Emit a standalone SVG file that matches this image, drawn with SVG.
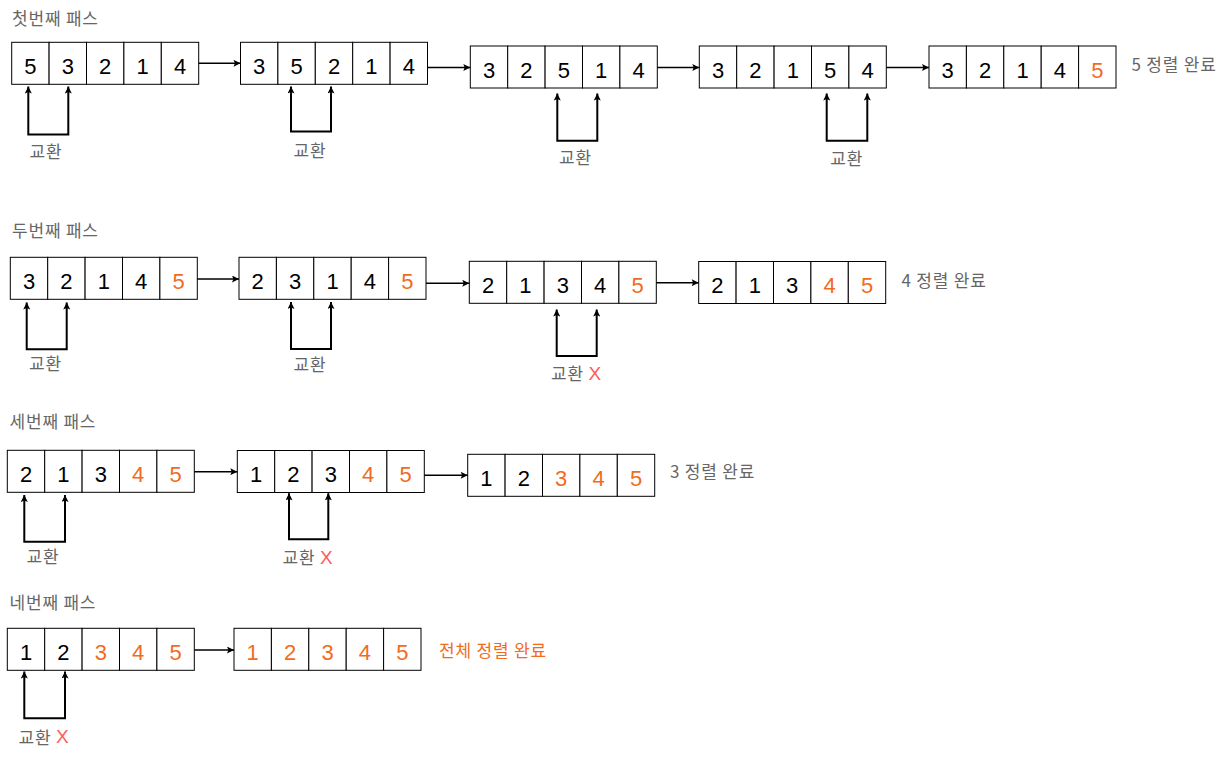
<svg xmlns="http://www.w3.org/2000/svg" width="1227" height="757" viewBox="0 0 1227 757">
<style>
.c{fill:#fff;stroke:#000;stroke-width:1}
.d{font-family:"Liberation Sans",Arial,sans-serif;font-size:22px;text-anchor:middle;fill:#000}
.k{font-family:"Noto Sans CJK KR","Noto Sans",sans-serif;font-size:17px;letter-spacing:0.8px;fill:#666;dominant-baseline:central}
.m{text-anchor:middle}
.o{fill:#F26B1D}
.x{fill:#FF5C5C;font-family:"Liberation Sans",Arial,sans-serif;font-size:19px}
.e{fill:none;stroke:#000;stroke-width:1.6}
.s{fill:none;stroke:#000;stroke-width:2}
</style>
<defs>
<marker id="ah" viewBox="0 0 10 10" refX="10" refY="5" markerWidth="8" markerHeight="7" markerUnits="userSpaceOnUse" orient="auto-start-reverse">
<path d="M0,0 L10,5 L0,10 L2,5 z" fill="#000"/>
</marker>
</defs>

<g id="titles">
<text class="k" x="12" y="17.5">첫번째 패스</text>
<text class="k" x="12" y="229">두번째 패스</text>
<text class="k" x="9.5" y="420">세번째 패스</text>
<text class="k" x="9.5" y="601.5">네번째 패스</text>
</g>

<!-- Row 1 -->
<g id="r1a1">
<rect class="c" x="11.7" y="42.3" width="37.4" height="42"/><rect class="c" x="49.1" y="42.3" width="37.4" height="42"/><rect class="c" x="86.5" y="42.3" width="37.4" height="42"/><rect class="c" x="123.9" y="42.3" width="37.4" height="42"/><rect class="c" x="161.3" y="42.3" width="37.4" height="42"/>
<text class="d" x="30.4" y="73.8">5</text><text class="d" x="67.8" y="73.8">3</text><text class="d" x="105.2" y="73.8">2</text><text class="d" x="142.6" y="73.8">1</text><text class="d" x="180" y="73.8">4</text>
</g>
<g id="r1a2">
<rect class="c" x="240.5" y="42.3" width="37.4" height="42"/><rect class="c" x="277.9" y="42.3" width="37.4" height="42"/><rect class="c" x="315.3" y="42.3" width="37.4" height="42"/><rect class="c" x="352.7" y="42.3" width="37.4" height="42"/><rect class="c" x="390.1" y="42.3" width="37.4" height="42"/>
<text class="d" x="259.2" y="73.8">3</text><text class="d" x="296.6" y="73.8">5</text><text class="d" x="334" y="73.8">2</text><text class="d" x="371.4" y="73.8">1</text><text class="d" x="408.8" y="73.8">4</text>
</g>
<g id="r1a3">
<rect class="c" x="470.3" y="46" width="37.4" height="42"/><rect class="c" x="507.7" y="46" width="37.4" height="42"/><rect class="c" x="545.1" y="46" width="37.4" height="42"/><rect class="c" x="582.5" y="46" width="37.4" height="42"/><rect class="c" x="619.9" y="46" width="37.4" height="42"/>
<text class="d" x="489" y="77.5">3</text><text class="d" x="526.4" y="77.5">2</text><text class="d" x="563.8" y="77.5">5</text><text class="d" x="601.2" y="77.5">1</text><text class="d" x="638.6" y="77.5">4</text>
</g>
<g id="r1a4">
<rect class="c" x="699.3" y="46" width="37.4" height="42"/><rect class="c" x="736.7" y="46" width="37.4" height="42"/><rect class="c" x="774.1" y="46" width="37.4" height="42"/><rect class="c" x="811.5" y="46" width="37.4" height="42"/><rect class="c" x="848.9" y="46" width="37.4" height="42"/>
<text class="d" x="718" y="77.5">3</text><text class="d" x="755.4" y="77.5">2</text><text class="d" x="792.8" y="77.5">1</text><text class="d" x="830.2" y="77.5">5</text><text class="d" x="867.6" y="77.5">4</text>
</g>
<g id="r1a5">
<rect class="c" x="929" y="46" width="37.4" height="42"/><rect class="c" x="966.4" y="46" width="37.4" height="42"/><rect class="c" x="1003.8" y="46" width="37.4" height="42"/><rect class="c" x="1041.2" y="46" width="37.4" height="42"/><rect class="c" x="1078.6" y="46" width="37.4" height="42"/>
<text class="d" x="947.7" y="77.5">3</text><text class="d" x="985.1" y="77.5">2</text><text class="d" x="1022.5" y="77.5">1</text><text class="d" x="1059.9" y="77.5">4</text><text class="d o" x="1097.3" y="77.5">5</text>
</g>
<g id="r1done"><text class="k" x="1131.5" y="63.5">5 정렬 완료</text></g>

<!-- Row 2 -->
<g id="r2a1">
<rect class="c" x="10.3" y="257.3" width="37.4" height="42"/><rect class="c" x="47.7" y="257.3" width="37.4" height="42"/><rect class="c" x="85.1" y="257.3" width="37.4" height="42"/><rect class="c" x="122.5" y="257.3" width="37.4" height="42"/><rect class="c" x="159.9" y="257.3" width="37.4" height="42"/>
<text class="d" x="29" y="288.8">3</text><text class="d" x="66.4" y="288.8">2</text><text class="d" x="103.8" y="288.8">1</text><text class="d" x="141.2" y="288.8">4</text><text class="d o" x="178.6" y="288.8">5</text>
</g>
<g id="r2a2">
<rect class="c" x="239" y="257.3" width="37.4" height="42"/><rect class="c" x="276.4" y="257.3" width="37.4" height="42"/><rect class="c" x="313.8" y="257.3" width="37.4" height="42"/><rect class="c" x="351.2" y="257.3" width="37.4" height="42"/><rect class="c" x="388.6" y="257.3" width="37.4" height="42"/>
<text class="d" x="257.7" y="288.8">2</text><text class="d" x="295.1" y="288.8">3</text><text class="d" x="332.5" y="288.8">1</text><text class="d" x="369.9" y="288.8">4</text><text class="d o" x="407.3" y="288.8">5</text>
</g>
<g id="r2a3">
<rect class="c" x="469.3" y="261.3" width="37.4" height="42"/><rect class="c" x="506.7" y="261.3" width="37.4" height="42"/><rect class="c" x="544.1" y="261.3" width="37.4" height="42"/><rect class="c" x="581.5" y="261.3" width="37.4" height="42"/><rect class="c" x="618.9" y="261.3" width="37.4" height="42"/>
<text class="d" x="488" y="292.8">2</text><text class="d" x="525.4" y="292.8">1</text><text class="d" x="562.8" y="292.8">3</text><text class="d" x="600.2" y="292.8">4</text><text class="d o" x="637.6" y="292.8">5</text>
</g>
<g id="r2a4">
<rect class="c" x="698.7" y="261.5" width="37.4" height="42"/><rect class="c" x="736.1" y="261.5" width="37.4" height="42"/><rect class="c" x="773.5" y="261.5" width="37.4" height="42"/><rect class="c" x="810.9" y="261.5" width="37.4" height="42"/><rect class="c" x="848.3" y="261.5" width="37.4" height="42"/>
<text class="d" x="717.4" y="293">2</text><text class="d" x="754.8" y="293">1</text><text class="d" x="792.2" y="293">3</text><text class="d o" x="829.6" y="293">4</text><text class="d o" x="867" y="293">5</text>
</g>
<g id="r2done"><text class="k" x="901.5" y="279">4 정렬 완료</text></g>

<!-- Row 3 -->
<g id="r3a1">
<rect class="c" x="7.3" y="450.3" width="37.4" height="42"/><rect class="c" x="44.7" y="450.3" width="37.4" height="42"/><rect class="c" x="82.1" y="450.3" width="37.4" height="42"/><rect class="c" x="119.5" y="450.3" width="37.4" height="42"/><rect class="c" x="156.9" y="450.3" width="37.4" height="42"/>
<text class="d" x="26" y="481.8">2</text><text class="d" x="63.4" y="481.8">1</text><text class="d" x="100.8" y="481.8">3</text><text class="d o" x="138.2" y="481.8">4</text><text class="d o" x="175.6" y="481.8">5</text>
</g>
<g id="r3a2">
<rect class="c" x="237.3" y="450.5" width="37.4" height="42"/><rect class="c" x="274.7" y="450.5" width="37.4" height="42"/><rect class="c" x="312.1" y="450.5" width="37.4" height="42"/><rect class="c" x="349.5" y="450.5" width="37.4" height="42"/><rect class="c" x="386.9" y="450.5" width="37.4" height="42"/>
<text class="d" x="256" y="482">1</text><text class="d" x="293.4" y="482">2</text><text class="d" x="330.8" y="482">3</text><text class="d o" x="368.2" y="482">4</text><text class="d o" x="405.6" y="482">5</text>
</g>
<g id="r3a3">
<rect class="c" x="467.7" y="454.3" width="37.4" height="42"/><rect class="c" x="505.1" y="454.3" width="37.4" height="42"/><rect class="c" x="542.5" y="454.3" width="37.4" height="42"/><rect class="c" x="579.9" y="454.3" width="37.4" height="42"/><rect class="c" x="617.3" y="454.3" width="37.4" height="42"/>
<text class="d" x="486.4" y="485.8">1</text><text class="d" x="523.8" y="485.8">2</text><text class="d o" x="561.2" y="485.8">3</text><text class="d o" x="598.6" y="485.8">4</text><text class="d o" x="636" y="485.8">5</text>
</g>
<g id="r3done"><text class="k" x="670" y="470">3 정렬 완료</text></g>

<!-- Row 4 -->
<g id="r4a1">
<rect class="c" x="7.3" y="628.3" width="37.4" height="42"/><rect class="c" x="44.7" y="628.3" width="37.4" height="42"/><rect class="c" x="82.1" y="628.3" width="37.4" height="42"/><rect class="c" x="119.5" y="628.3" width="37.4" height="42"/><rect class="c" x="156.9" y="628.3" width="37.4" height="42"/>
<text class="d" x="26" y="659.8">1</text><text class="d" x="63.4" y="659.8">2</text><text class="d o" x="100.8" y="659.8">3</text><text class="d o" x="138.2" y="659.8">4</text><text class="d o" x="175.6" y="659.8">5</text>
</g>
<g id="r4a2">
<rect class="c" x="234" y="628.3" width="37.4" height="42"/><rect class="c" x="271.4" y="628.3" width="37.4" height="42"/><rect class="c" x="308.8" y="628.3" width="37.4" height="42"/><rect class="c" x="346.2" y="628.3" width="37.4" height="42"/><rect class="c" x="383.6" y="628.3" width="37.4" height="42"/>
<text class="d o" x="252.7" y="659.8">1</text><text class="d o" x="290.1" y="659.8">2</text><text class="d o" x="327.5" y="659.8">3</text><text class="d o" x="364.9" y="659.8">4</text><text class="d o" x="402.3" y="659.8">5</text>
</g>
<g id="r4done"><text class="k o" x="439" y="649">전체 정렬 완료</text></g>

<!-- swap labels -->
<g id="swaplabels">
<text class="k m" x="46" y="150">교환</text>
<text class="k m" x="310" y="149">교환</text>
<text class="k m" x="575.5" y="156.5">교환</text>
<text class="k m" x="846.7" y="157">교환</text>
<text class="k m" x="45.5" y="362">교환</text>
<text class="k m" x="310" y="363">교환</text>
<text class="k" x="551" y="372.5">교환 <tspan class="x">X</tspan></text>
<text class="k m" x="43" y="555">교환</text>
<text class="k" x="282.5" y="556.5">교환 <tspan class="x">X</tspan></text>
<text class="k" x="18.5" y="736">교환 <tspan class="x">X</tspan></text>
</g>

<g id="connectors">
<line class="e" x1="198.7" y1="63.3" x2="240.5" y2="63.3" marker-end="url(#ah)"/>
<line class="e" x1="427.5" y1="67.5" x2="470.3" y2="67.5" marker-end="url(#ah)"/>
<line class="e" x1="657.3" y1="67.5" x2="699.3" y2="67.5" marker-end="url(#ah)"/>
<line class="e" x1="886.3" y1="67.5" x2="929" y2="67.5" marker-end="url(#ah)"/>
<line class="e" x1="197.3" y1="279" x2="239" y2="279" marker-end="url(#ah)"/>
<line class="e" x1="426" y1="283.3" x2="469.3" y2="283.3" marker-end="url(#ah)"/>
<line class="e" x1="656.3" y1="282.7" x2="698.7" y2="282.7" marker-end="url(#ah)"/>
<line class="e" x1="194.3" y1="471.7" x2="237.3" y2="471.7" marker-end="url(#ah)"/>
<line class="e" x1="424.3" y1="475.3" x2="467.7" y2="475.3" marker-end="url(#ah)"/>
<line class="e" x1="194.3" y1="650" x2="234" y2="650" marker-end="url(#ah)"/>

<path class="s" d="M28.3,86.5 V134.5 H68.3 V86.5" marker-start="url(#ah)" marker-end="url(#ah)"/>
<path class="s" d="M291,86.5 V131.5 H331 V86.5" marker-start="url(#ah)" marker-end="url(#ah)"/>
<path class="s" d="M557.3,93.5 V140.7 H597.3 V93.5" marker-start="url(#ah)" marker-end="url(#ah)"/>
<path class="s" d="M826.7,93.5 V140.7 H867.3 V93.5" marker-start="url(#ah)" marker-end="url(#ah)"/>
<path class="s" d="M26.7,302.5 V349.3 H66.7 V302.5" marker-start="url(#ah)" marker-end="url(#ah)"/>
<path class="s" d="M291,302 V349 H331 V302" marker-start="url(#ah)" marker-end="url(#ah)"/>
<path class="s" d="M556.7,309.5 V356 H596.7 V309.5" marker-start="url(#ah)" marker-end="url(#ah)"/>
<path class="s" d="M24.3,495 V541.7 H65 V495" marker-start="url(#ah)" marker-end="url(#ah)"/>
<path class="s" d="M289,493.3 V539.3 H328.3 V493.3" marker-start="url(#ah)" marker-end="url(#ah)"/>
<path class="s" d="M24.3,671.5 V718.3 H65 V671.5" marker-start="url(#ah)" marker-end="url(#ah)"/>
</g>
</svg>
